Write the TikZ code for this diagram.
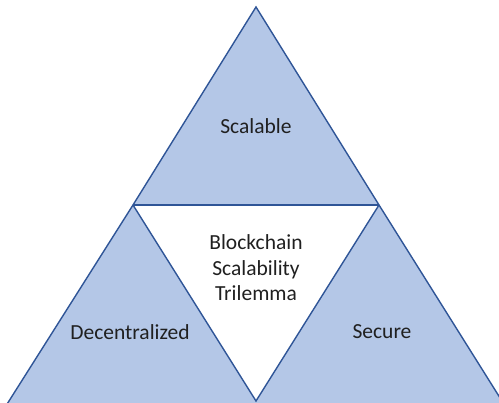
\documentclass[tikz,border=0pt]{standalone}
\usepackage{fontspec}
\usetikzlibrary{calc}
\setmainfont{Carlito}
\definecolor{trifill}{HTML}{B4C7E7}
\definecolor{triline}{HTML}{2F5597}
\definecolor{txt}{HTML}{202020}
\begin{document}
\begin{tikzpicture}[x=1pt,y=-1pt,
  edge/.style={draw=triline,line width=1.4pt,line join=miter,line cap=butt},
  lbl/.style={text=txt,font=\fontsize{21.5}{25.5}\selectfont,align=center,inner sep=0pt}]
\useasboundingbox (0,0) rectangle (499,403);
\coordinate (T) at (256,7);
\coordinate (L) at (133,205);
\coordinate (R) at (379,205);
\coordinate (BL) at ($(L)!1.02!(9,401)$);
\coordinate (BM) at (256,401);
\coordinate (BMl) at ($(L)!1.02!(BM)$);
\coordinate (BMr) at ($(R)!1.02!(BM)$);
\coordinate (BR) at ($(R)!1.02!(502,401)$);
% fills
\fill[trifill] (T) -- (L) -- (R) -- cycle;
\fill[trifill] (L) -- (BL) -- (BMl) -- cycle;
\fill[trifill] (R) -- (BMr) -- (BR) -- cycle;
% outlines
\draw[edge] (BL) -- (L) -- (T) -- (R) -- (BR);
\draw[edge] (L) -- (R);
\draw[edge] (L) -- (BM) -- (R);
\node[lbl] (scal) at (256,126) {Scalable};
\node[lbl] (dec) at (130,332) {Decentralized};
\node[lbl] (sec) at (382,332) {Secure};
\node[lbl] (mid) at (256,268) {Blockchain\\Scalability\\Trilemma};
\end{tikzpicture}
\end{document}
